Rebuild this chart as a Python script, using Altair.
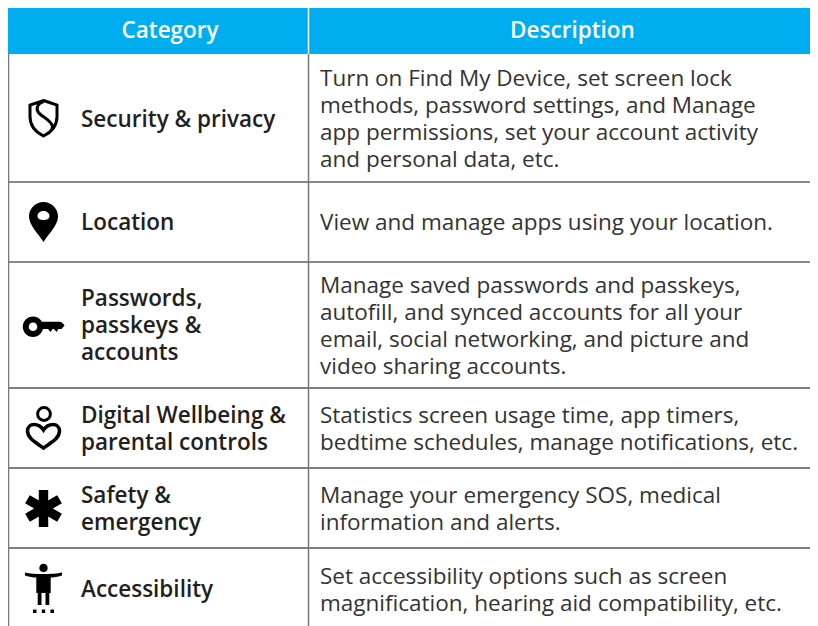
import re
import math
import altair as alt
import pandas as pd

headers = ["Category", "Description"]
categories = [
    ["Security & privacy"],
    ["Location"],
    ["Passwords,", "passkeys &", "accounts"],
    ["Digital Wellbeing &", "parental controls"],
    ["Safety &", "emergency"],
    ["Accessibility"],
]
descriptions = [
    ["Turn on Find My Device, set screen lock", "methods, password settings, and Manage",
     "app permissions, set your account activity", "and personal data, etc."],
    ["View and manage apps using your location."],
    ["Manage saved passwords and passkeys,", "autofill, and synced accounts for all your",
     "email, social networking, and picture and", "video sharing accounts."],
    ["Statistics screen usage time, app timers,", "bedtime schedules, manage notifications, etc."],
    ["Manage your emergency SOS, medical", "information and alerts."],
    ["Set accessibility options such as screen", "magnification, hearing aid compatibility, etc."],
]
row_edges = [54, 182, 262, 388, 468, 548, 628]
row_centers = [118.5, 222, 325, 428, 508.5, 589]
LEFT, MID, RIGHT, TOP, HEAD_BOTTOM, BOTTOM = 8, 308.5, 810, 8, 54, 626
CAT_X, DESC_X, ICON_X = 81, 320, 43.5
LINE_H = 27
TEXT_SHIFT = 1.0
FONT = "Open Sans"

xs = alt.Scale(domain=[8, 810], range=[0, 802], clamp=False)
ys = alt.Scale(domain=[8, 626], range=[0, 618], clamp=False)
X = lambda f: alt.X(f, type="quantitative", scale=xs, axis=None)
Y = lambda f: alt.Y(f, type="quantitative", scale=ys, axis=None)

U = 25.0  # icon path half extent in px


def norm(p):
    return re.sub(r"-?\d+\.?\d*", lambda m: f"{float(m.group())/U:.4f}", p)


def circ(cx, cy, r, rev=False):
    k = 0.5523 * r
    if not rev:
        return (f"M{cx-r} {cy}C{cx-r} {cy-k} {cx-k} {cy-r} {cx} {cy-r}C{cx+k} {cy-r} {cx+r} {cy-k} {cx+r} {cy}"
                f"C{cx+r} {cy+k} {cx+k} {cy+r} {cx} {cy+r}C{cx-k} {cy+r} {cx-r} {cy+k} {cx-r} {cy}Z")
    return (f"M{cx-r} {cy}C{cx-r} {cy+k} {cx-k} {cy+r} {cx} {cy+r}C{cx+k} {cy+r} {cx+r} {cy+k} {cx+r} {cy}"
            f"C{cx+r} {cy-k} {cx+k} {cy-r} {cx} {cy-r}C{cx-k} {cy-r} {cx-r} {cy-k} {cx-r} {cy}Z")


def bars():
    out = ""
    w, l = 4.7, 18.5
    for a in (0, 60, 120):
        c, s = math.cos(math.radians(a)), math.sin(math.radians(a))
        pts = [(-w, -l), (w, -l), (w, l), (-w, l)]
        pts = [(px * c - py * s, px * s + py * c) for px, py in pts]
        out += "M" + "L".join(f"{a1:.2f} {b1:.2f}" for a1, b1 in pts) + "Z"
    return out


filled_icons = [
    # location pin
    (1, "M0 20C-5 12 -14.5 3 -14.5 -5.5C-14.5 -13.5 -8 -20 0 -20C8 -20 14.5 -13.5 14.5 -5.5C14.5 3 5 12 0 20Z"
        "M-6 -6C-6 -3 -3 -2 0 -2C3 -2 6 -3 6 -6C6 -9 3 -11 0 -11C-3 -11 -6 -9 -6 -6Z"),
    # key
    (2, circ(-10.5, 1.7, 10.2) + circ(-10.5, 1.7, 4.3, True) +
        "M-2 -3.3L16 -3.3C18 -3.3 20 -1.5 21 0.5L18 4L15 4L13 7L10.5 4L9 4L7 7L4.5 4L-2 4Z"),
    # asterisk
    (4, bars()),
    # accessibility
    (5, circ(0, -21, 4.2) +
        "M-18.5 -16.5C-10 -14.5 10 -14.5 18.5 -16.5L18.5 -13.5C14 -12 10 -11.5 7.2 -11.5L7.2 4L5.8 4L5.8 16L2 16L2 4"
        "L-2 4L-2 16L-5.8 16L-5.8 4L-7.2 4L-7.2 -11.5C-10 -11.5 -14 -12 -18.5 -13.5Z"
        "M-10.5 20.5L-7 20.5L-7 24L-10.5 24Z M-1.7 20.5L1.7 20.5L1.7 24L-1.7 24Z M7 20.5L10.5 20.5L10.5 24L7 24Z"),
]
stroked_icons = [
    # shield
    (0, "M0 -18L13.5 -13.5L13.5 -2C13.5 8 8 13.5 0 17.5C-8 13.5 -13.5 8 -13.5 -2L-13.5 -13.5Z"
        "M0 -17C-6 -15 -8 -10 -5 -6C-2 -2 8 2 9 8C9 11 7 13 5 15", 3.0),
    # wellbeing head
    (3, circ(0.5, -14, 6.4), 3.0),
    # wellbeing heart
    (3, "M0 20C-6 15.5 -16 11 -16 3C-16 -1 -13 -3.5 -9.5 -3.5C-5 -3.5 -2 -1 0 2C2 -1 5 -3.5 9.5 -3.5"
        "C13 -3.5 16 -1 16 3C16 11 6 15.5 0 20Z", 3.5),
]

layers = []

# header
head_df = pd.DataFrame({"x": [LEFT], "x2": [RIGHT], "y": [TOP], "y2": [HEAD_BOTTOM]})
layers.append(alt.Chart(head_df).mark_rect(color="#00aeef").encode(x=X("x"), x2="x2", y=Y("y"), y2="y2"))

# grid
h_df = pd.DataFrame({"y": row_edges[1:-1], "w": [2, 2, 1.5, 1.5, 1.5], "c": ["#8a8a8a", "#8a8a8a", "#555555", "#555555", "#555555"]})
layers.append(alt.Chart(h_df).mark_rule().encode(
    x=alt.value(0), x2=alt.value(802), y=Y("y"),
    color=alt.Color("c:N", scale=None), strokeWidth=alt.StrokeWidth("w:Q", scale=None)))
v_df = pd.DataFrame({"x": [LEFT + 0.5, MID], "y": [HEAD_BOTTOM, HEAD_BOTTOM], "y2": [BOTTOM, BOTTOM]})
layers.append(alt.Chart(v_df).mark_rule(color="#777777", strokeWidth=1.5).encode(x=X("x"), y=Y("y"), y2="y2"))
div_df = pd.DataFrame({"x": [MID], "y": [TOP], "y2": [HEAD_BOTTOM]})
layers.append(alt.Chart(div_df).mark_rule(color="#ffffff", strokeWidth=1.5).encode(x=X("x"), y=Y("y"), y2="y2"))

# header text
ht = pd.DataFrame({"t": headers, "x": [170, 572.5], "y": [30.5, 30.5]})
layers.append(alt.Chart(ht).mark_text(font=FONT, fontSize=22.5, fontWeight=600, color="#ffffff", baseline="middle", align="center")
              .encode(x=X("x"), y=Y("y"), text="t:N"))


def lines(src, x):
    rows = []
    for c, group in zip(row_centers, src):
        for i, t in enumerate(group):
            rows.append({"t": t, "x": x, "y": c + TEXT_SHIFT + (i - (len(group) - 1) / 2) * LINE_H})
    return pd.DataFrame(rows)


layers.append(alt.Chart(lines(categories, CAT_X)).mark_text(
    font=FONT, fontSize=22.5, fontWeight=600, color="#231f20", baseline="middle", align="left")
    .encode(x=X("x"), y=Y("y"), text="t:N"))
layers.append(alt.Chart(lines(descriptions, DESC_X)).mark_text(
    font=FONT, fontSize=22.5, fontWeight=400, color="#333333", baseline="middle", align="left")
    .encode(x=X("x"), y=Y("y"), text="t:N"))

# icons
for r, p in filled_icons:
    d = pd.DataFrame({"x": [ICON_X], "y": [row_centers[r]]})
    layers.append(alt.Chart(d).mark_point(shape=norm(p), size=(2 * U) ** 2, filled=True, fill="#000000", opacity=1, strokeWidth=0)
                  .encode(x=X("x"), y=Y("y")))
for r, p, sw in stroked_icons:
    d = pd.DataFrame({"x": [ICON_X], "y": [row_centers[r]]})
    layers.append(alt.Chart(d).mark_point(shape=norm(p), size=(2 * U) ** 2, filled=False, stroke="#000000", opacity=1, strokeWidth=sw)
                  .encode(x=X("x"), y=Y("y")))

chart = (alt.layer(*layers)
         .properties(width=802, height=618, padding=0, autosize=alt.AutoSizeParams(type="none"), background="#ffffff")
         .configure_view(stroke=None))
chart.save("out.html", embed_options={"renderer": "svg", "actions": False})
